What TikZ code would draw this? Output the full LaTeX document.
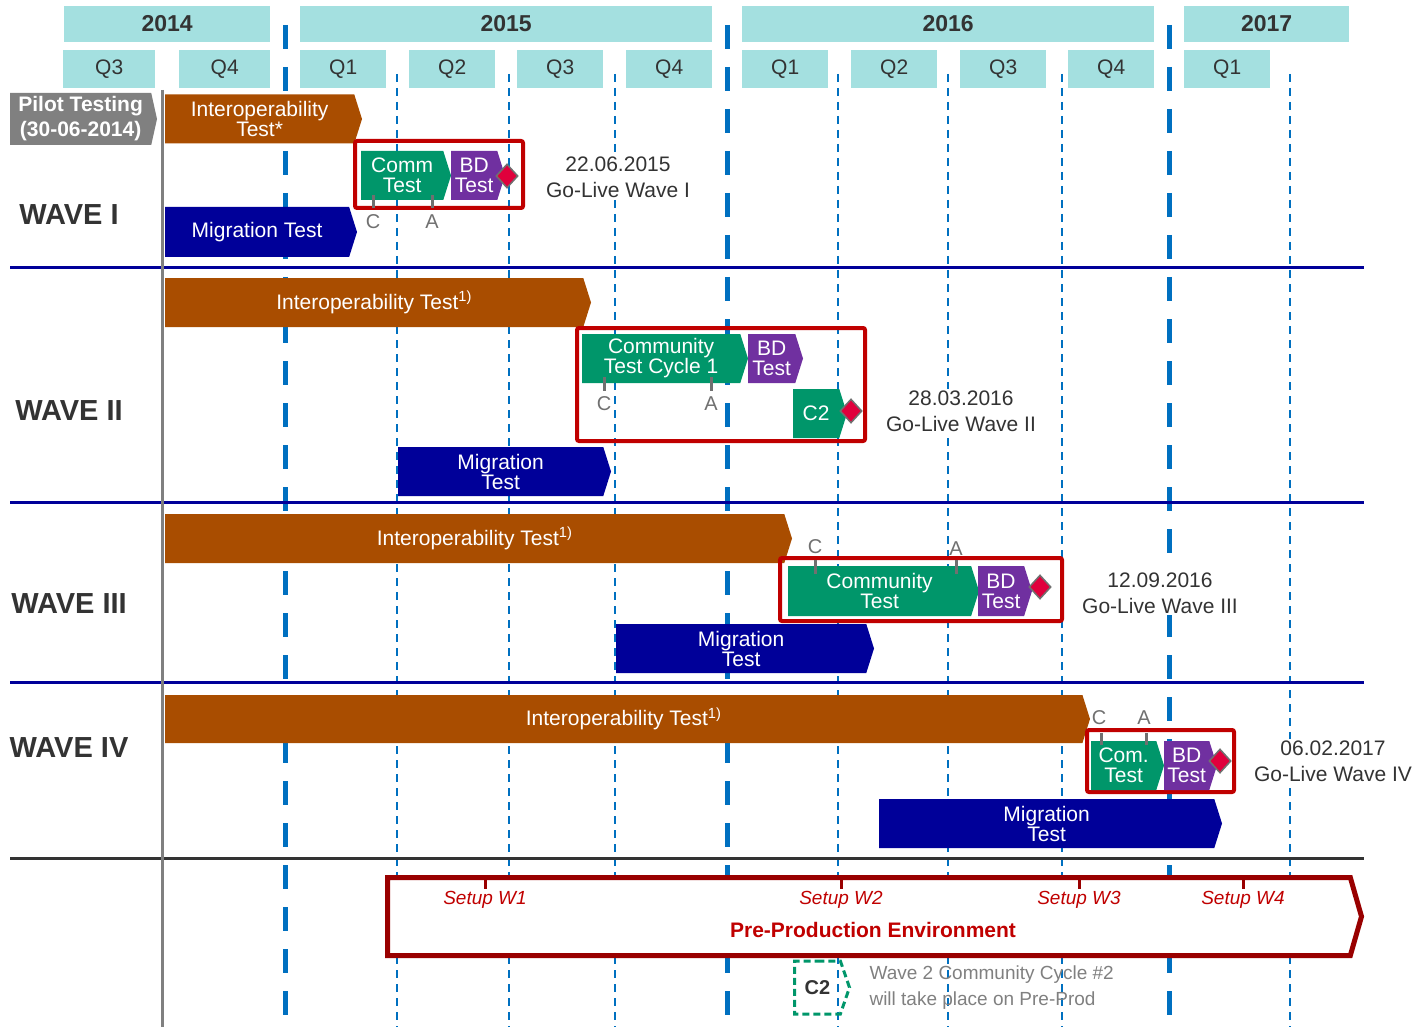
\documentclass[tikz,border=0pt]{standalone}
\usepackage{fontspec}
\setmainfont{Liberation Sans}
\usetikzlibrary{shapes.symbols, shapes.geometric}

\definecolor{headteal}{HTML}{A4E0E0}
\definecolor{linkblue}{HTML}{0070C0}
\definecolor{wavenavy}{HTML}{000099}
\definecolor{interbrown}{HTML}{A94D00}
\definecolor{commgreen}{HTML}{00966A}
\definecolor{bdpurple}{HTML}{7030A0}
\definecolor{framered}{HTML}{C00000}
\definecolor{preprodred}{HTML}{990000}
\definecolor{golivered}{HTML}{E0003C}
\definecolor{textgray}{HTML}{333333}
\definecolor{tickgray}{HTML}{707070}
\definecolor{notegray}{HTML}{808080}

\begin{document}
\begin{tikzpicture}[
    x=1pt, y=-1pt,
    year/.style={rectangle, fill=headteal, minimum height=36pt, inner sep=0pt, anchor=west,
                 font=\fontsize{23}{24}\selectfont\bfseries, text=textgray},
    quarter/.style={rectangle, fill=headteal, minimum height=38pt, inner sep=0pt, anchor=west,
                    font=\fontsize{21}{22}\selectfont, text=textgray},
    wave/.style={font=\fontsize{29}{30}\selectfont\bfseries, text=textgray},
    phase/.style={signal, signal to=east, signal pointer angle=145, anchor=west,
                  inner sep=0pt, outer sep=0pt, text=white, align=center,
                  minimum height=49pt, font=\fontsize{21}{20}\selectfont},
    interop/.style={phase, fill=interbrown},
    migration/.style={phase, fill=wavenavy},
    comm/.style={phase, fill=commgreen},
    bd/.style={phase, fill=bdpurple},
    golive/.style={diamond, fill=golivered, draw=tickgray, line width=1.5pt,
                   minimum width=22pt, minimum height=24pt, inner sep=0pt},
    gobox/.style={draw=framered, line width=4pt, rounded corners=2pt},
    catick/.style={draw=tickgray, line width=3pt},
    calabel/.style={font=\fontsize{20}{20}\selectfont, text=tickgray},
    golivetext/.style={align=center, fill=white, inner sep=2pt, font=\fontsize{21}{26}\selectfont, text=textgray},
    setup/.style={font=\fontsize{19}{20}\selectfont\itshape, text=framered},
    yearline/.style={draw=linkblue, line width=5pt, dash pattern=on 24pt off 18pt},
    qline/.style={draw=linkblue, line width=1.8pt, dash pattern=on 8pt off 6pt},
    sepline/.style={draw=wavenavy, line width=3pt}
  ]
    \useasboundingbox (0,0) rectangle (1414,1027);

    % Years
    \node[year, minimum width=206pt] (y2014) at (64,24) {2014};
    \node[year, minimum width=412pt] (y2015) at (300,24) {2015};
    \node[year, minimum width=412pt] (y2016) at (742,24) {2016};
    \node[year, minimum width=165pt] (y2017) at (1184,24) {2017};

    % Quarters
    \node[quarter, minimum width=92pt] (q3a) at (63,69) {Q3};
    \node[quarter, minimum width=91pt] (q4a) at (179,69) {Q4};
    \node[quarter, minimum width=86pt] (q1b) at (300,69) {Q1};
    \node[quarter, minimum width=86pt] (q2b) at (409,69) {Q2};
    \node[quarter, minimum width=86pt] (q3b) at (517,69) {Q3};
    \node[quarter, minimum width=86pt] (q4b) at (626,69) {Q4};
    \node[quarter, minimum width=86pt] (q1c) at (742,69) {Q1};
    \node[quarter, minimum width=86pt] (q2c) at (851,69) {Q2};
    \node[quarter, minimum width=86pt] (q3c) at (960,69) {Q3};
    \node[quarter, minimum width=86pt] (q4c) at (1068,69) {Q4};
    \node[quarter, minimum width=86pt] (q1d) at (1184,69) {Q1};

    % Quarter and year grid
    \draw[qline] (397,74) -- (397,1027) (509,74) -- (509,1027) (615,74) -- (615,1027)
                 (838,74) -- (838,1027) (948,74) -- (948,1027) (1062,74) -- (1062,1027)
                 (1290,74) -- (1290,1027);
    \draw[yearline] (285,25) -- (285,1027) (727,25) -- (727,1027) (1169,25) -- (1169,1027);

    % Wave separators
    \draw[sepline] (10,268) -- (1364,268);
    \draw[sepline] (10,502) -- (1364,502);
    \draw[sepline] (10,682) -- (1364,682);
    \draw[draw=textgray, line width=3pt] (10,858) -- (1364,858);
    \draw[draw=notegray, line width=3pt] (162,90) -- (162,1027);

    % Wave labels
    \node[wave] (w1) at (69,215) {WAVE I};
    \node[wave] (w2) at (69,411) {WAVE II};
    \node[wave] (w3) at (69,604) {WAVE III};
    \node[wave] (w4) at (69,748) {WAVE IV};

    % Wave I
    \node[phase, fill=notegray, minimum width=147pt, minimum height=52pt, signal pointer angle=155,
          font=\fontsize{21}{25}\selectfont\bfseries] (pilot) at (10,119) {Pilot Testing\\(30-06-2014)};
    \node[interop, minimum width=197pt] (int1) at (165,119) {Interoperability\\Test*};
    \draw[gobox] (355,141) rectangle (523,208);
    \node[comm, minimum width=90pt] (comm1) at (361,175.5) {Comm\\Test};
    \node[bd, minimum width=54pt] (bd1) at (451,175.5) {BD\\Test};
    \node[golive] (live1) at (507,176) {};
    \draw[catick] (373,195) -- (373,208) (432,195) -- (432,208);
    \node[calabel] (c1) at (373,222) {C};
    \node[calabel] (a1) at (432,222) {A};
    \node[golivetext] (date1) at (618,177) {22.06.2015\\Go-Live Wave I};
    \node[migration, minimum width=192pt, minimum height=50pt] (mig1) at (165,232) {Migration Test};

    % Wave II
    \node[interop, minimum width=426pt] (int2) at (165,302.5) {Interoperability Test\textsuperscript{1)}};
    \draw[gobox] (577,328) rectangle (865,441);
    \node[comm, minimum width=166pt] (comm2) at (582,358.5) {Community\\Test Cycle 1};
    \node[bd, minimum width=55pt] (bd2) at (748,358.5) {BD\\Test};
    \node[comm, minimum width=54pt] (cycle2) at (793,413.5) {C2};
    \node[golive] (live2) at (851,411) {};
    \draw[catick] (604,377) -- (604,391) (711,377) -- (711,391);
    \node[calabel] (c2) at (604,404) {C};
    \node[calabel] (a2) at (711,404) {A};
    \node[golivetext] (date2) at (961,411) {28.03.2016\\Go-Live Wave II};
    \node[migration, minimum width=213pt] (mig2) at (398,471.5) {Migration\\Test};

    % Wave III
    \node[interop, minimum width=627pt] (int3) at (165,538.5) {Interoperability Test\textsuperscript{1)}};
    \draw[gobox] (780,558) rectangle (1062,621);
    \node[comm, minimum width=191pt, minimum height=50pt] (comm3) at (788,591) {Community\\Test};
    \node[bd, minimum width=54pt, minimum height=50pt] (bd3) at (978,591) {BD\\Test};
    \node[golive] (live3) at (1040,587) {};
    \draw[catick] (815,560) -- (815,574) (956,560) -- (956,574);
    \node[calabel] (c3) at (815,547) {C};
    \node[calabel] (a3) at (956,549) {A};
    \node[golivetext] (date3) at (1160,593) {12.09.2016\\Go-Live Wave III};
    \node[migration, minimum width=258pt] (mig3) at (616,648.5) {Migration\\Test};

    % Wave IV
    \node[interop, minimum width=925pt, minimum height=48pt] (int4) at (165,719) {Interoperability Test\textsuperscript{1)}};
    \draw[gobox] (1087,730) rectangle (1234,792);
    \node[comm, minimum width=73pt] (comm4) at (1091,765.5) {Com.\\Test};
    \node[bd, minimum width=53pt] (bd4) at (1164,765.5) {BD\\Test};
    \node[golive] (live4) at (1220,761) {};
    \draw[catick] (1101,733) -- (1101,745) (1146,733) -- (1146,745);
    \node[calabel] (c4) at (1099,718) {C};
    \node[calabel] (a4) at (1144,718) {A};
    \node[golivetext] (date4) at (1333,761) {06.02.2017\\Go-Live Wave IV};
    \node[migration, minimum width=343pt] (mig4) at (879,823.5) {Migration\\Test};

    % Pre-production environment
    \node[signal, signal to=east, signal pointer angle=148, anchor=west, draw=preprodred, fill=white,
          line width=5pt, minimum width=974pt, minimum height=78pt, inner sep=0pt, outer sep=0pt] (preprod) at (387.5,916.5) {};
    \draw[draw=preprodred, line width=3pt] (485,876) -- (485,889) (841,876) -- (841,889)
                                           (1079,876) -- (1079,889) (1243,876) -- (1243,889);
    \node[setup] (s1) at (485,900) {Setup W1};
    \node[setup] (s2) at (841,900) {Setup W2};
    \node[setup] (s3) at (1079,900) {Setup W3};
    \node[setup] (s4) at (1243,900) {Setup W4};
    \node[font=\fontsize{21}{22}\selectfont\bfseries, text=framered] (ppe) at (873,930) {Pre-Production Environment};

    % Cycle 2 note
    \node[signal, signal to=east, signal pointer angle=142, anchor=west, draw=commgreen, line width=3pt,
          dash pattern=on 7pt off 4pt, minimum width=55pt, minimum height=53pt, inner sep=0pt,
          font=\fontsize{20}{20}\selectfont\bfseries, text=textgray] (c2note) at (793,987.5) {C2};
    \node[anchor=west, align=left, font=\fontsize{19}{26}\selectfont, text=notegray] (note) at (866,988)
      {Wave 2 Community Cycle \#2\\will take place on Pre-Prod};

  \end{tikzpicture}
\end{document}
